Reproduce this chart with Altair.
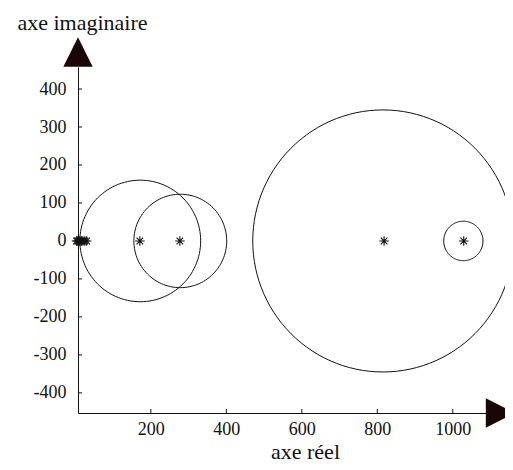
import altair as alt
import pandas as pd

# Gershgorin-type discs: centre (real axis), radius
disc_id = ["d1", "d2", "d3", "d4"]
disc_centre = [172, 278, 815, 1028]
disc_radius = [160, 123, 345, 52]

# eigenvalues (real parts, imaginary part 0)
eig_real = [3, 6, 9, 12, 16, 20, 25, 30, 171, 277, 818, 1029]
eig_imag = [0] * len(eig_real)

x_ticks = [200, 400, 600, 800, 1000]
y_ticks = [400, 300, 200, 100, 0, -100, -200, -300, -400]

X_DOMAIN = [7, 1088]
Y_DOMAIN = [-453, 458]
W, H = 408, 346
FONT = "Liberation Serif"
INK = "#111111"

discs = pd.DataFrame({"id": disc_id, "centre": disc_centre, "rayon": disc_radius})
eigs = pd.DataFrame({"re": eig_real, "im": eig_imag})
xt = pd.DataFrame({"v": x_ticks})
yt = pd.DataFrame({"v": y_ticks})

xs = alt.Scale(domain=X_DOMAIN, nice=False, zero=False)
ys = alt.Scale(domain=Y_DOMAIN, nice=False, zero=False)

x_axis = alt.Axis(
    values=x_ticks, labelExpr="'' + datum.value",
    labelFont=FONT, labelFontSize=18, labelPadding=7,
    title="axe réel", titleX=227, titleY=45, titleBaseline="alphabetic",
    titleAlign="center",
)
y_axis = alt.Axis(
    values=y_ticks, labelExpr="'' + datum.value",
    labelFont=FONT, labelFontSize=18, labelPadding=12,
    title="axe imaginaire", titleAngle=0, titleX=4, titleY=-38,
    titleBaseline="alphabetic", titleAlign="center",
)

axes = alt.Chart(eigs).mark_point(opacity=0).encode(
    x=alt.X("re:Q", scale=xs, axis=x_axis),
    y=alt.Y("im:Q", scale=ys, axis=y_axis),
)

circles = (
    alt.Chart(discs)
    .transform_calculate(ang="sequence(0, 361, 3)")
    .transform_flatten(["ang"])
    .transform_calculate(
        px="datum.centre + datum.rayon * cos(datum.ang * PI / 180)",
        py="datum.rayon * sin(datum.ang * PI / 180)",
    )
    .mark_line(color=INK, strokeWidth=1)
    .encode(
        x=alt.X("px:Q", scale=xs, axis=x_axis),
        y=alt.Y("py:Q", scale=ys, axis=y_axis),
        detail="id:N",
        order="ang:Q",
    )
)

star = "M-1,0L1,0M0,-1L0,1M-0.7,-0.7L0.7,0.7M-0.7,0.7L0.7,-0.7"
stars = alt.Chart(eigs).mark_point(
    shape=star, filled=False, color=INK, strokeWidth=1.1, size=90, opacity=1
).encode(
    x=alt.X("re:Q", scale=xs, axis=x_axis),
    y=alt.Y("im:Q", scale=ys, axis=y_axis),
)

xticks = alt.Chart(xt).mark_rule(color=INK, strokeWidth=1).encode(
    x=alt.X("v:Q", scale=xs, axis=x_axis), y=alt.value(H), y2=alt.value(H - 4)
)
yticks = alt.Chart(yt).mark_rule(color=INK, strokeWidth=1).encode(
    y=alt.Y("v:Q", scale=ys, axis=y_axis), x=alt.value(0), x2=alt.value(4)
)

arrow_col = "#1a0606"
up_arrow = alt.Chart(xt.head(1)).mark_point(
    shape="M0,-1L1,1L-1,1Z", filled=True, color=arrow_col, size=860, opacity=1
).encode(x=alt.value(0), y=alt.value(-15))
right_arrow = alt.Chart(xt.head(1)).mark_point(
    shape="M1,0L-1,-1L-1,1Z", filled=True, color=arrow_col, size=860, opacity=1
).encode(x=alt.value(W + 14.5), y=alt.value(H))

chart = (
    alt.layer(axes, circles, stars, xticks, yticks, up_arrow, right_arrow)
    .properties(
        width=W, height=H,
        autosize=alt.AutoSizeParams(type="none"),
        padding={"left": 70, "top": 59, "right": 19, "bottom": 49},
    )
    .configure(background="white", font=FONT)
    .configure_view(strokeWidth=0, stroke="transparent")
    .configure_axis(
        grid=False, ticks=False, domainColor=INK, domainWidth=1,
        labelFont=FONT, labelColor="#111", titleFont=FONT, titleFontSize=22,
        titleFontWeight="normal", titleColor="#111",
    )
)

chart.save("out.html", embed_options={"renderer": "svg", "actions": False})
